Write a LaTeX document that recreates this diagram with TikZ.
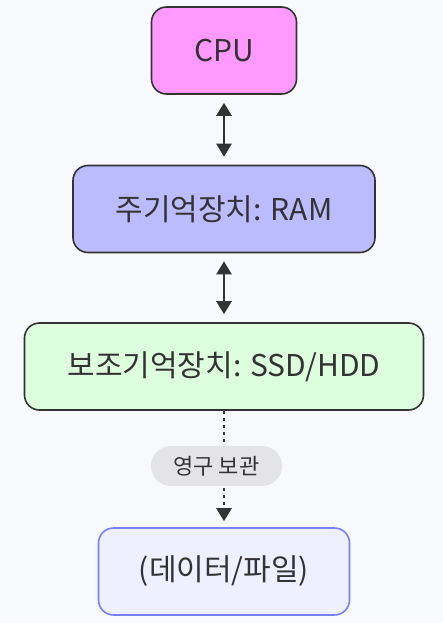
\documentclass[tikz,border=0pt]{standalone}
\usepackage{fontspec}
\setmainfont{Noto Sans CJK KR}
\usetikzlibrary{arrows.meta, positioning}
\definecolor{bgcol}{RGB}{248,249,252}
\definecolor{inkcol}{RGB}{51,51,51}
\definecolor{cpucol}{RGB}{255,153,255}
\definecolor{ramcol}{RGB}{187,187,255}
\definecolor{ssdcol}{RGB}{221,255,221}
\definecolor{datacol}{RGB}{238,240,255}
\definecolor{dataline}{RGB}{119,128,255}
\definecolor{pillcol}{RGB}{228,228,231}

\begin{document}
\begin{tikzpicture}[x=1pt, y=-1pt]
\tikzset{unit/.style={rectangle, rounded corners=15pt, draw=inkcol, line width=1.6pt, text=inkcol, font=\fontsize{30}{36}\selectfont, minimum height=87pt, inner sep=0pt},
  link/.style={draw=inkcol, line width=2.5pt, shorten <=8pt, shorten >=8pt, {Triangle[width=15pt,length=13pt]}-{Triangle[width=15pt,length=13pt]}},
  keep/.style={draw=inkcol, line width=2.5pt, dash pattern=on 3.5pt off 3.5pt, shorten >=6pt, -{Triangle[width=15pt,length=13pt]}},
  pill/.style={rectangle, rounded corners=20pt, fill=pillcol, text=inkcol, font=\fontsize{22}{26}\selectfont, minimum width=131pt, minimum height=40pt, inner sep=0pt}}

\fill[bgcol] (0,0) rectangle (443,623);

% Memory hierarchy
\node (cpu) [unit, fill=cpucol, minimum width=145pt] at (224,50.5) {CPU};
\node (ram) [unit, fill=ramcol, minimum width=302pt] at (224,209) {주기억장치: RAM};
\node (ssd) [unit, fill=ssdcol, minimum width=399pt] at (224,366.5) {보조기억장치: SSD/HDD};
\node (data) [unit, fill=datacol, draw=dataline, minimum width=251pt] at (224,571.5) {(데이터/파일)};

% Connections
\draw [link] (cpu.south) -- (ram.north);
\draw [link] (ram.south) -- (ssd.north);
\draw [keep] (ssd.south) -- (data.north);
\node (keeplbl) [pill] at (216.5,466) {영구 보관};

\end{tikzpicture}
\end{document}
